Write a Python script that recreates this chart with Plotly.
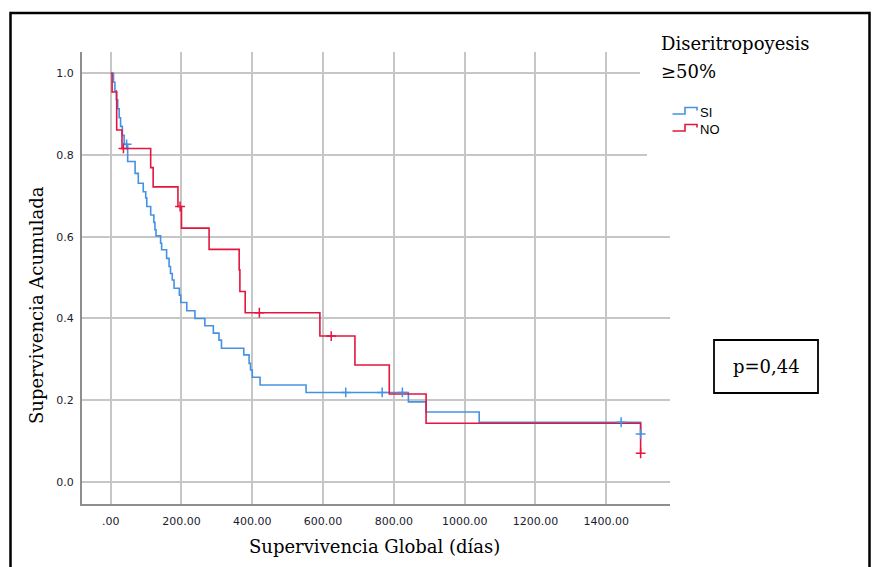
import plotly.graph_objects as go

# ---- data ----
si_days = [0, 8, 12, 16, 20, 24, 28, 33, 38, 48, 69, 78, 92, 99, 102, 113, 122, 125, 128,
           141, 144, 158, 165, 169, 174, 179, 194, 198, 215, 238, 266, 290, 306, 313,
           376, 391, 395, 400, 422, 552, 841, 891, 1041, 1497]
si_surv = [1.0, 0.978, 0.957, 0.935, 0.913, 0.891, 0.870, 0.848, 0.826, 0.784, 0.755, 0.731,
           0.710, 0.695, 0.674, 0.653, 0.635, 0.617, 0.602, 0.584, 0.568, 0.547, 0.527,
           0.510, 0.494, 0.474, 0.457, 0.439, 0.419, 0.400, 0.382, 0.364, 0.347, 0.327,
           0.311, 0.290, 0.274, 0.256, 0.237, 0.219, 0.196, 0.171, 0.146, 0.117]
si_cens_days = [45, 664, 767, 824, 1442, 1497]
si_cens_surv = [0.826, 0.219, 0.219, 0.219, 0.146, 0.117]

no_days = [0, 4, 17, 32, 113, 120, 190, 200, 278, 363, 365, 380, 591, 690, 787, 891, 1497]
no_surv = [1.0, 0.954, 0.861, 0.816, 0.769, 0.722, 0.674, 0.621, 0.569, 0.519, 0.466,
           0.414, 0.357, 0.286, 0.215, 0.1435, 0.070]
no_cens_days = [36, 196, 420, 623, 1497]
no_cens_surv = [0.816, 0.674, 0.414, 0.357, 0.070]

x_ticks = [0, 200, 400, 600, 800, 1000, 1200, 1400]
x_tick_labels = [".00", "200.00", "400.00", "600.00", "800.00", "1000.00", "1200.00", "1400.00"]
y_ticks = [0.0, 0.2, 0.4, 0.6, 0.8, 1.0]
y_tick_labels = ["0.0", "0.2", "0.4", "0.6", "0.8", "1.0"]

BLUE = "#4592e3"
RED = "#e3163f"

W, H = 878, 567
L, R, T, B = 82, 208, 52, 63
PW, PH = W - L - R, H - T - B


def px_x(p):
    return (p - L) / PW


def px_y(p):
    return (H - B - p) / PH


fig = go.Figure()
fig.add_trace(go.Scatter(x=si_days, y=si_surv, mode="lines", line=dict(color=BLUE, width=1.6, shape="hv"),
                         showlegend=False, hoverinfo="skip"))
fig.add_trace(go.Scatter(x=no_days, y=no_surv, mode="lines", line=dict(color=RED, width=1.6, shape="hv"),
                         showlegend=False, hoverinfo="skip"))
fig.add_trace(go.Scatter(x=si_cens_days, y=si_cens_surv, mode="markers",
                         marker=dict(symbol="cross-thin", size=7, line=dict(color=BLUE, width=1.5)),
                         showlegend=False, hoverinfo="skip"))
fig.add_trace(go.Scatter(x=no_cens_days, y=no_cens_surv, mode="markers",
                         marker=dict(symbol="cross-thin", size=7, line=dict(color=RED, width=1.5)),
                         showlegend=False, hoverinfo="skip"))

shapes = []
# white areas under the legend hiding gridline ends
shapes.append(dict(type="rect", xref="paper", yref="paper", layer="above",
                   x0=px_x(647), x1=px_x(675), y0=px_y(170), y1=px_y(40),
                   fillcolor="white", line=dict(width=0)))
shapes.append(dict(type="rect", xref="paper", yref="paper", layer="above",
                   x0=px_x(640), x1=px_x(675), y0=px_y(95), y1=px_y(40),
                   fillcolor="white", line=dict(width=0)))
# outer frame
shapes.append(dict(type="rect", xref="paper", yref="paper", layer="above",
                   x0=px_x(10.5), x1=px_x(869.5), y0=px_y(590), y1=px_y(13),
                   fillcolor="rgba(0,0,0,0)", line=dict(color="black", width=2.5)))
# p-value box
shapes.append(dict(type="rect", xref="paper", yref="paper", layer="above",
                   x0=px_x(714), x1=px_x(818), y0=px_y(393), y1=px_y(340),
                   fillcolor="white", line=dict(color="black", width=1.8)))
# legend step symbols
for col, yb in [(BLUE, 114), (RED, 131)]:
    path = "M {} {} L {} {} L {} {} L {} {} L {} {}".format(
        px_x(672.5), px_y(yb), px_x(685), px_y(yb), px_x(685), px_y(yb - 6.5),
        px_x(697), px_y(yb - 6.5), px_x(697), px_y(yb - 3.5))
    shapes.append(dict(type="path", xref="paper", yref="paper", layer="above", path=path,
                       line=dict(color=col, width=1.6)))

serif = "DejaVu Serif"
annotations = [
    dict(text="Supervivencia Global (días)", x=px_x(374), y=px_y(546), xref="paper", yref="paper",
         showarrow=False, font=dict(family=serif, size=18, color="black"), xanchor="center", yanchor="middle"),
    dict(text="Supervivencia Acumulada", x=px_x(36), y=px_y(305), xref="paper", yref="paper",
         showarrow=False, textangle=-90, font=dict(family=serif, size=18, color="black"),
         xanchor="center", yanchor="middle"),
    dict(text="Diseritropoyesis", x=px_x(659), y=px_y(44), xref="paper", yref="paper",
         showarrow=False, font=dict(family=serif, size=18, color="black"), xanchor="left", yanchor="middle"),
    dict(text="≥50%", x=px_x(659), y=px_y(71), xref="paper", yref="paper",
         showarrow=False, font=dict(family=serif, size=18, color="black"), xanchor="left", yanchor="middle"),
    dict(text="SI", x=px_x(698), y=px_y(112), xref="paper", yref="paper",
         showarrow=False, font=dict(family="Liberation Sans", size=13, color="black"), xanchor="left", yanchor="middle"),
    dict(text="NO", x=px_x(698), y=px_y(129), xref="paper", yref="paper",
         showarrow=False, font=dict(family="Liberation Sans", size=13, color="black"), xanchor="left", yanchor="middle"),
    dict(text="p=0,44", x=px_x(766), y=px_y(366), xref="paper", yref="paper",
         showarrow=False, font=dict(family=serif, size=18, color="black"), xanchor="center", yanchor="middle"),
]

fig.update_layout(
    width=W, height=H, autosize=False,
    margin=dict(l=L, r=R, t=T, b=B, pad=0),
    paper_bgcolor="white", plot_bgcolor="white",
    shapes=shapes, annotations=annotations,
    showlegend=False,
    xaxis=dict(range=[-81, 1580], tickvals=x_ticks, ticktext=x_tick_labels,
               showgrid=True, gridcolor="#c6c6c6", gridwidth=2,
               showline=True, linecolor="#8e8e8e", linewidth=2, zeroline=False,
               ticks="", ticklabelstandoff=6,
               tickfont=dict(family="DejaVu Sans", size=11, color="#1c1c30")),
    yaxis=dict(range=[-0.054, 1.052], tickvals=y_ticks, ticktext=y_tick_labels,
               showgrid=True, gridcolor="#c6c6c6", gridwidth=2,
               showline=True, linecolor="#8e8e8e", linewidth=2, zeroline=False,
               ticks="", ticklabelstandoff=4,
               tickfont=dict(family="DejaVu Sans", size=11, color="#1c1c30")),
)

fig.write_html("out.html", config={"displayModeBar": False},
               post_script="document.body.style.margin='0px';document.body.style.overflow='hidden';")
